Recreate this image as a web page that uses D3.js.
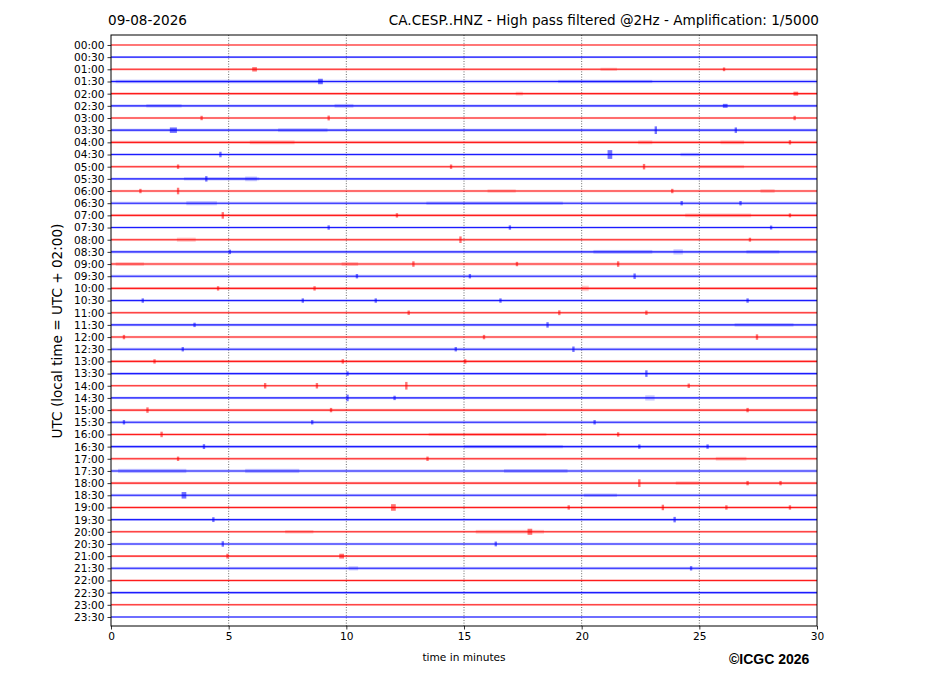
<!DOCTYPE html>
<html><head><meta charset="utf-8">
<script src="https://cdn.jsdelivr.net/npm/d3@7/dist/d3.min.js"></script>
<style>
body{margin:0;background:#fff;}
svg{display:block;font-family:"DejaVu Sans",sans-serif;}
</style></head><body>
<svg id="c" width="927" height="696"></svg>
<script>
// ---------- data ----------
const dateLabel = "09-08-2026";
const titleText = "CA.CESP..HNZ - High pass filtered @2Hz - Amplification: 1/5000";
const yAxisTitle = "UTC (local time = UTC + 02:00)";
const xAxisTitle = "time in minutes";
const credit = "©ICGC 2026";
const rowLabels = ["00:00","00:30","01:00","01:30","02:00","02:30","03:00","03:30","04:00","04:30",
  "05:00","05:30","06:00","06:30","07:00","07:30","08:00","08:30","09:00","09:30",
  "10:00","10:30","11:00","11:30","12:00","12:30","13:00","13:30","14:00","14:30",
  "15:00","15:30","16:00","16:30","17:00","17:30","18:00","18:30","19:00","19:30",
  "20:00","20:30","21:00","21:30","22:00","22:30","23:00","23:30"];
const xTicks = [0,5,10,15,20,25,30];
const gridMinutes = [5,10,15,20,25];
const traceColors = ["#ff0000","#0000ff"];
// background noise half-width per row (row units)
const noiseLevel = [0.06,0.08,0.10,0.14,0.11,0.11,0.09,0.12,0.13,0.11,
  0.10,0.10,0.10,0.12,0.12,0.10,0.11,0.12,0.12,0.12,
  0.12,0.12,0.10,0.11,0.10,0.12,0.12,0.11,0.09,0.10,
  0.11,0.12,0.12,0.12,0.11,0.12,0.11,0.12,0.12,0.10,
  0.10,0.10,0.09,0.12,0.11,0.11,0.09,0.08];
// bursts: [row, start minute, end minute, half amplitude in row units]
const bursts = [
  [2,6.0,6.2,0.2],[2,20.8,21.5,0.17],[2,26.0,26.1,0.17],
  [3,0.2,9.0,0.17],[3,8.8,9.0,0.25],[3,19.0,23.0,0.16],
  [4,17.2,17.5,0.2],[4,29.0,29.2,0.18],
  [5,1.5,3.0,0.18],[5,9.5,10.3,0.2],[5,26.0,26.2,0.18],
  [6,3.8,3.9,0.2],[6,9.2,9.3,0.22],[6,29.0,29.1,0.2],
  [7,2.5,2.8,0.25],[7,7.1,9.2,0.2],[7,23.1,23.2,0.35],[7,26.5,26.6,0.25],
  [8,5.9,7.8,0.2],[8,22.4,23.0,0.2],[8,25.9,26.9,0.2],[8,28.8,28.9,0.2],
  [9,4.6,4.7,0.25],[9,21.1,21.3,0.4],[9,24.2,25.0,0.18],
  [10,2.8,2.9,0.2],[10,14.4,14.5,0.2],[10,22.6,22.7,0.25],[10,25.0,26.9,0.16],
  [11,3.1,6.3,0.17],[11,4.0,4.1,0.25],[11,5.7,6.2,0.25],
  [12,1.2,1.3,0.2],[12,2.8,2.9,0.3],[12,16.0,17.2,0.17],[12,23.8,23.9,0.2],[12,27.6,28.2,0.2],
  [13,3.2,4.5,0.22],[13,13.4,19.2,0.17],[13,24.2,24.3,0.2],[13,26.7,26.8,0.2],
  [14,4.7,4.8,0.3],[14,12.1,12.2,0.2],[14,24.4,27.2,0.2],[14,28.8,28.9,0.18],
  [15,9.2,9.3,0.2],[15,16.9,17.0,0.2],[15,28.0,28.1,0.18],
  [16,2.8,3.6,0.22],[16,14.8,14.9,0.3],[16,27.1,27.2,0.18],
  [17,5.0,5.1,0.2],[17,20.5,23.0,0.2],[17,23.9,24.3,0.28],[17,27.0,28.4,0.18],
  [18,0.2,1.4,0.18],[18,9.8,10.5,0.2],[18,12.8,12.9,0.25],[18,17.2,17.3,0.2],[18,21.5,21.6,0.25],
  [19,10.4,10.5,0.2],[19,15.2,15.3,0.2],[19,22.2,22.3,0.25],
  [20,4.5,4.6,0.2],[20,8.6,8.7,0.2],[20,20.0,20.3,0.28],
  [21,1.3,1.4,0.2],[21,8.1,8.2,0.2],[21,11.2,11.3,0.2],[21,16.5,16.6,0.2],[21,27.0,27.1,0.2],
  [22,12.6,12.7,0.2],[22,19.0,19.1,0.22],[22,22.7,22.8,0.2],
  [23,3.5,3.6,0.2],[23,18.5,18.6,0.25],[23,26.5,29.0,0.18],
  [24,0.5,0.6,0.2],[24,15.8,15.9,0.2],[24,27.4,27.5,0.25],
  [25,3.0,3.1,0.2],[25,14.6,14.7,0.2],[25,19.6,19.7,0.25],
  [26,1.8,1.9,0.2],[26,9.8,9.9,0.2],[26,15.0,15.1,0.2],
  [27,10.0,10.1,0.2],[27,22.7,22.8,0.3],
  [28,6.5,6.6,0.25],[28,8.7,8.8,0.25],[28,12.5,12.6,0.35],[28,24.5,24.6,0.2],
  [29,10.0,10.1,0.3],[29,12.0,12.1,0.2],[29,22.7,23.1,0.28],
  [30,1.5,1.6,0.25],[30,9.3,9.4,0.2],[30,27.0,27.1,0.2],
  [31,0.5,0.6,0.2],[31,8.5,8.6,0.2],[31,20.5,20.6,0.2],
  [32,2.1,2.2,0.25],[32,13.5,18.5,0.16],[32,21.5,21.6,0.2],
  [33,3.9,4.0,0.22],[33,15.0,19.2,0.17],[33,22.4,22.5,0.2],[33,25.3,25.4,0.2],
  [34,2.8,2.9,0.2],[34,13.4,13.5,0.2],[34,25.7,27.0,0.2],
  [35,0.3,3.2,0.22],[35,5.7,8.0,0.22],[35,16.7,19.4,0.2],
  [36,22.4,22.5,0.35],[36,24.0,25.0,0.18],[36,27.0,27.1,0.2],[36,28.4,28.5,0.2],
  [37,3.0,3.2,0.3],[37,20.1,21.5,0.18],
  [38,11.9,12.1,0.3],[38,19.4,19.5,0.2],[38,23.4,23.5,0.25],[38,26.1,26.2,0.2],[38,28.8,28.9,0.2],
  [39,4.3,4.4,0.22],[39,23.9,24.0,0.25],
  [40,7.4,8.6,0.18],[40,15.5,18.4,0.2],[40,17.7,17.9,0.28],
  [41,4.7,4.8,0.25],[41,16.3,16.4,0.22],
  [42,4.9,5.0,0.22],[42,9.7,9.9,0.22],
  [43,10.1,10.5,0.22],[43,24.6,24.7,0.2]
];

// ---------- layout ----------
const svg = d3.select("#c");
const L = 111, R = 817, T = 35, B = 626;
const x = d3.scaleLinear().domain([0,30]).range([L,R]);
const y = d3.scaleLinear().domain([-0.82,47.74]).range([T,B]);
const rows = rowLabels.map((lab,i)=>({lab,i}));

// grid
svg.append("g").selectAll("line").data(gridMinutes).join("line")
  .attr("x1",d=>x(d)).attr("x2",d=>x(d)).attr("y1",T).attr("y2",B)
  .attr("stroke","#444").attr("stroke-width",0.8).attr("stroke-dasharray","1,1.6");

const ph = Math.abs(y(1)-y(0));
const isLong = d => (d[2]-d[1]) > 0.3;
// noise band
const traces = svg.append("g");
traces.selectAll("rect.band").data(rows).join("rect")
  .attr("x",x(0)).attr("width",x(30)-x(0))
  .attr("y",d=>y(d.i)-noiseLevel[d.i]*ph).attr("height",d=>2*noiseLevel[d.i]*ph)
  .attr("fill",d=>traceColors[d.i%2]).attr("opacity",0.25);
traces.selectAll("line.base").data(rows).join("line")
  .attr("x1",x(0)).attr("x2",x(30)).attr("y1",d=>y(d.i)).attr("y2",d=>y(d.i))
  .attr("stroke",d=>traceColors[d.i%2]).attr("stroke-width",1.1).attr("opacity",0.85);
traces.selectAll("rect.burst").data(bursts).join("rect")
  .attr("x",d=>x(d[1])).attr("width",d=>Math.max(1.2,x(d[2])-x(d[1])))
  .attr("y",d=>y(d[0])-d[3]*ph*(isLong(d)?0.8:0.9)).attr("height",d=>2*d[3]*ph*(isLong(d)?0.8:0.9))
  .attr("fill",d=>traceColors[d[0]%2]).attr("opacity",d=>isLong(d)?0.18:0.55);

// frame
svg.append("rect").attr("x",L).attr("y",T).attr("width",R-L).attr("height",B-T)
  .attr("fill","none").attr("stroke","#000").attr("stroke-width",1);

// axes
const yAxis = d3.axisLeft(y).tickValues(rows.map(r=>r.i)).tickFormat(i=>rowLabels[i]).tickSize(3.5).tickPadding(3);
const gy = svg.append("g").attr("transform",`translate(${L},0)`).call(yAxis);
gy.select(".domain").remove();
gy.selectAll("text").attr("font-size","10.6px").attr("font-family","DejaVu Sans").attr("fill","#000");
gy.selectAll("line").attr("stroke","#000").attr("stroke-width",0.8);

const xAxis = d3.axisBottom(x).tickValues(xTicks).tickFormat(d3.format("d")).tickSize(3.5).tickPadding(3);
const gx = svg.append("g").attr("transform",`translate(0,${B})`).call(xAxis);
gx.select(".domain").remove();
gx.selectAll("text").attr("font-size","10.6px").attr("font-family","DejaVu Sans").attr("fill","#000");
gx.selectAll("line").attr("stroke","#000").attr("stroke-width",0.8);

// texts
svg.append("text").attr("x",108).attr("y",25).attr("font-size","13.6px").text(dateLabel);
svg.append("text").attr("x",819).attr("y",25).attr("text-anchor","end").attr("font-size","13.6px").text(titleText);
svg.append("text").attr("transform","translate(62,331) rotate(-90)").attr("text-anchor","middle")
  .attr("font-size","13.6px").text(yAxisTitle);
svg.append("text").attr("x",464).attr("y",661).attr("text-anchor","middle").attr("font-size","10.6px").text(xAxisTitle);
svg.append("text").attr("x",729).attr("y",664).attr("font-family","Liberation Sans, Arial, sans-serif")
  .attr("font-weight","bold").attr("font-size","14px").text(credit);
</script></body></html>
